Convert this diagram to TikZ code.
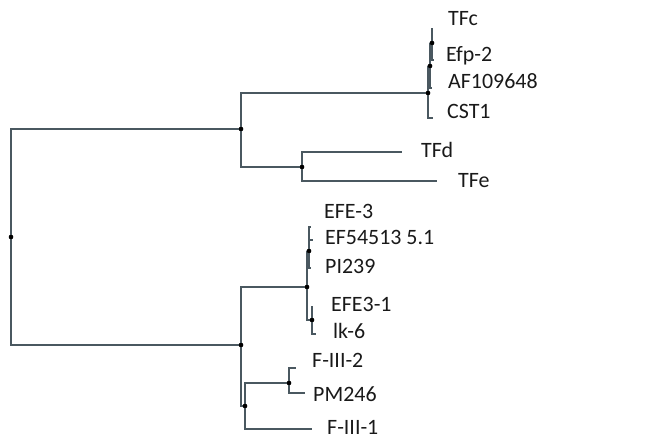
\documentclass[tikz,border=0pt]{standalone}
\usepackage{fontspec}
\setmainfont{Carlito}
\definecolor{linegray}{RGB}{74,88,96}
\tikzset{
  branch/.style={draw=linegray, line width=1.6bp},
  taxon/.style={anchor=west, inner sep=0pt, text height=14bp, text depth=0pt,
    font=\fontsize{22}{22}\selectfont, text=black!90},
  knot/.style={circle, fill=black, inner sep=0pt, minimum size=4.5bp},
}
\begin{document}
\begin{tikzpicture}[x=1bp,y=-1bp]
    \useasboundingbox (0,0) rectangle (648,437);

    % Inner nodes
    \node[knot] (root) at (11,237) {};
    \node[knot] (upper) at (241,129) {};
    \node[knot] (lower) at (241,345) {};
    \node[knot] (tfgrp) at (428,93) {};
    \node[knot] (tfsub) at (430,66) {};
    \node[knot] (tftop) at (432,43) {};
    \node[knot] (tfde) at (302,167) {};
    \node[knot] (efegrp) at (307,287) {};
    \node[knot] (efetop) at (309,251) {};
    \node[knot] (efebot) at (312,320) {};
    \node[knot] (fgrp) at (245,406) {};
    \node[knot] (fsub) at (289,383) {};

    % Leaf tips
    \coordinate (tTFc) at (432,28);
    \coordinate (tEfp) at (434,60);
    \coordinate (tAF) at (432,88);
    \coordinate (tCST) at (433,118);
    \coordinate (tTFd) at (402,152);
    \coordinate (tTFe) at (437,181);
    \coordinate (tEFE) at (311,227);
    \coordinate (tEF) at (313,240);
    \coordinate (tPI) at (311,268);
    \coordinate (tEFEo) at (312,306);
    \coordinate (tIk) at (316,334);
    \coordinate (tF2) at (296,368);
    \coordinate (tPM) at (305,393);
    \coordinate (tF1) at (312,429);

    % Labels
    \node[taxon] (TFc) at (448,19) {TFc};
    \node[taxon] (Efp) at (446,55) {Efp-2};
    \node[taxon] (AF) at (448,82) {AF109648};
    \node[taxon] (CST) at (447,112) {CST1};
    \node[taxon] (TFd) at (421,151) {TFd};
    \node[taxon] (TFe) at (458,181) {TFe};
    \node[taxon] (EFE) at (324,212) {EFE-3};
    \node[taxon] (EF) at (325,238) {EF54513 5.1};
    \node[taxon] (PI) at (325,267) {PI239};
    \node[taxon] (EFEo) at (331,305) {EFE3-1};
    \node[taxon] (Ik) at (333,331) {lk-6};
    \node[taxon] (F2) at (312,360) {F-III-2};
    \node[taxon] (PM) at (313,394) {PM246};
    \node[taxon] (F1) at (327,427) {F-III-1};

    % Branches
    \begin{scope}[every path/.style={branch}]
    \draw (root) |- (upper);
    \draw (root) |- (lower);
    \draw (upper) |- (tfgrp);
    \draw (upper) |- (tfde);
    \draw (tfde) |- (tTFd);
    \draw (tfde) |- (tTFe);
    \draw (tfgrp) |- (tfsub);
    \draw (tfgrp) |- (tCST);
    \draw (tfsub) |- (tftop);
    \draw (tfsub) |- (tAF);
    \draw (tftop) |- (tTFc);
    \draw (tftop) |- (tEfp);
    \draw (lower) |- (efegrp);
    \draw (lower) |- (fgrp);
    \draw (efegrp) |- (efetop);
    \draw (efegrp) |- (efebot);
    \draw (efetop) |- (tEFE);
    \draw (efetop) |- (tEF);
    \draw (efetop) |- (tPI);
    \draw (efebot) |- (tEFEo);
    \draw (efebot) |- (tIk);
    \draw (fgrp) |- (fsub);
    \draw (fgrp) |- (tF1);
    \draw (fsub) |- (tF2);
    \draw (fsub) |- (tPM);
    \end{scope}

    % Dots on top
    \foreach \n in {root,upper,lower,tfgrp,tfsub,tftop,tfde,efegrp,efetop,efebot,fgrp,fsub}
      \fill (\n) circle (2.2bp);
\end{tikzpicture}
\end{document}
